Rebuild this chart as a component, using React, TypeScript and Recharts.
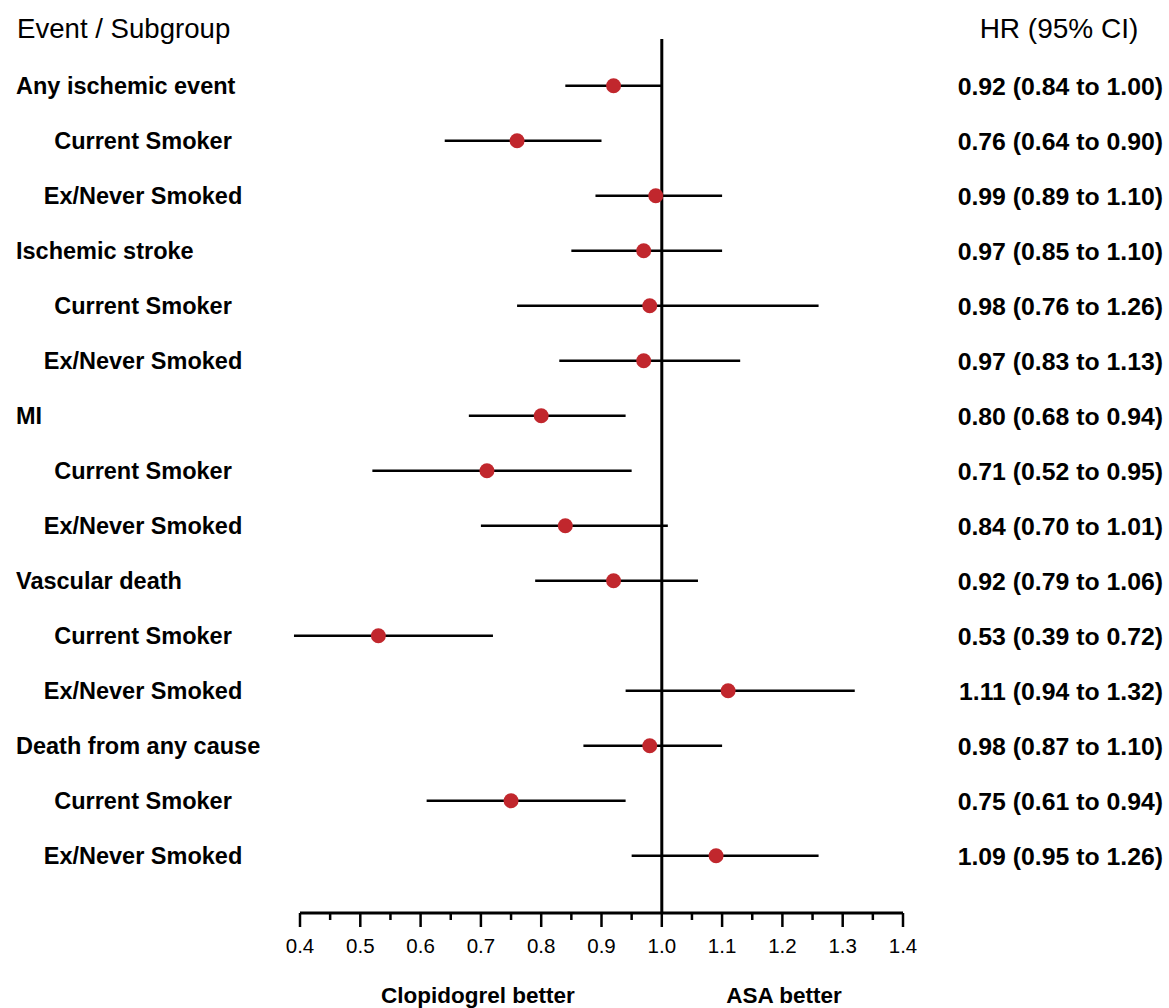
import React from 'react';
import {
  ScatterChart,
  Scatter,
  XAxis,
  YAxis,
  ErrorBar,
  ReferenceLine,
} from 'recharts';

const labels = [
  'Any ischemic event',
  'Current Smoker',
  'Ex/Never Smoked',
  'Ischemic stroke',
  'Current Smoker',
  'Ex/Never Smoked',
  'MI',
  'Current Smoker',
  'Ex/Never Smoked',
  'Vascular death',
  'Current Smoker',
  'Ex/Never Smoked',
  'Death from any cause',
  'Current Smoker',
  'Ex/Never Smoked',
];
const isSubgroup = [false, true, true, false, true, true, false, true, true, false, true, true, false, true, true];
const hr = [0.92, 0.76, 0.99, 0.97, 0.98, 0.97, 0.8, 0.71, 0.84, 0.92, 0.53, 1.11, 0.98, 0.75, 1.09];
const lower = [0.84, 0.64, 0.89, 0.85, 0.76, 0.83, 0.68, 0.52, 0.7, 0.79, 0.39, 0.94, 0.87, 0.61, 0.95];
const upper = [1.0, 0.9, 1.1, 1.1, 1.26, 1.13, 0.94, 0.95, 1.01, 1.06, 0.72, 1.32, 1.1, 0.94, 1.26];

const xTicks = [
  0.4, 0.45, 0.5, 0.55, 0.6, 0.65, 0.7, 0.75, 0.8, 0.85, 0.9, 0.95, 1.0, 1.05, 1.1, 1.15, 1.2, 1.25, 1.3,
  1.35, 1.4,
];

const rows = labels.map((label, i) => ({
  row: i,
  label,
  sub: isSubgroup[i],
  hr: hr[i],
  err: [hr[i] - lower[i], upper[i] - hr[i]],
  text: `${hr[i].toFixed(2)} (${lower[i].toFixed(2)} to ${upper[i].toFixed(2)})`,
}));

const FONT = "'Liberation Sans', Arial, Helvetica, sans-serif";
const DOT = '#c1272d';

// left: event / subgroup name, right: HR with its CI
function RowTick(props: any) {
  const { y, payload } = props;
  const r = rows[payload.value];
  if (!r) return null;
  return (
    <g fontFamily={FONT} fontWeight="bold" fill="#000">
      <text
        x={r.sub ? 143 : 16}
        y={y}
        dy="0.36em"
        fontSize={23.5}
        textAnchor={r.sub ? 'middle' : 'start'}
      >
        {r.label}
      </text>
      <text x={1163} y={y} dy="0.36em" textAnchor="end" fontSize={24.8}>
        {r.text}
      </text>
    </g>
  );
}

function HrTick(props: any) {
  const { x, y, payload } = props;
  const v = payload.value;
  const major = Math.round(v * 100) % 10 === 0;
  return (
    <g>
      <line x1={x} x2={x} y1={y} y2={y + (major ? 14 : 7)} stroke="#000" strokeWidth={2.5} />
      {major && (
        <text x={x} y={y + 33} dy="0.36em" textAnchor="middle" fontFamily={FONT} fontSize={20.5} fill="#000">
          {v.toFixed(1)}
        </text>
      )}
    </g>
  );
}

function Dot(props: any) {
  return <circle cx={props.cx} cy={props.cy} r={7.5} fill={DOT} />;
}

export default function App() {
  return (
    <div style={{ position: 'absolute', left: 0, top: 0, width: 1169, height: 1008, background: '#fff' }}>
      <ScatterChart width={1169} height={1008} margin={{ top: 39, right: 266, bottom: 0, left: 299 }}>
        <XAxis
          type="number"
          dataKey="hr"
          domain={[0.4, 1.4]}
          ticks={xTicks}
          interval={0}
          height={95}
          tickSize={0}
          tickMargin={0}
          tickLine={false}
          axisLine={{ stroke: '#000', strokeWidth: 3 }}
          tick={<HrTick />}
          allowDataOverflow
        />
        <YAxis
          type="number"
          dataKey="row"
          domain={[-0.85, 15.04]}
          reversed
          ticks={rows.map((r) => r.row)}
          interval={0}
          width={1}
          axisLine={false}
          tickLine={false}
          tick={<RowTick />}
          allowDataOverflow
        />
        <ReferenceLine x={1} stroke="#000" strokeWidth={3} />
        <Scatter data={rows} shape={<Dot />} isAnimationActive={false}>
          <ErrorBar dataKey="err" direction="x" width={0} stroke="#000" strokeWidth={2.5} />
        </Scatter>
      </ScatterChart>
      <svg
        width={1169}
        height={1008}
        style={{ position: 'absolute', left: 0, top: 0, pointerEvents: 'none' }}
        fontFamily={FONT}
        fill="#000"
      >
        <text x={17} y={28} dy="0.36em" fontSize={27.6}>
          Event / Subgroup
        </text>
        <text x={1059} y={28} dy="0.36em" fontSize={28} textAnchor="middle">
          HR (95% CI)
        </text>
        <text x={478} y={995} dy="0.36em" fontSize={22.5} fontWeight="bold" textAnchor="middle">
          Clopidogrel better
        </text>
        <text x={784} y={995} dy="0.36em" fontSize={22.5} fontWeight="bold" textAnchor="middle">
          ASA better
        </text>
      </svg>
    </div>
  );
}
